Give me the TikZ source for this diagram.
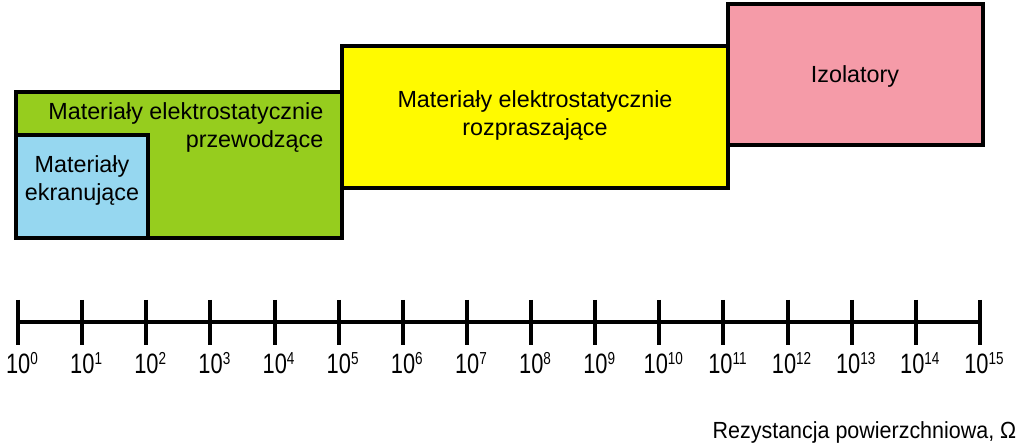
\documentclass[tikz,border=0pt]{standalone}
\usepackage{fontspec}
\setmainfont{Liberation Sans}
\begin{document}
\begin{tikzpicture}[x=0.75pt,y=-0.75pt,
  box/.style={draw=black,line width=3pt},
  lbl/.style={font=\fontsize{17.5}{21}\selectfont,align=center},
  tk/.style={font=\fontsize{21}{22}\selectfont}]
\useasboundingbox (0,0) rectangle (1024,448);
\definecolor{cgreen}{RGB}{150,205,30}
\definecolor{cblue}{RGB}{150,215,240}
\definecolor{cyellow}{RGB}{255,250,0}
\definecolor{cpink}{RGB}{245,155,168}
\draw[box,fill=cgreen] (16,92) rectangle (342,238);
\draw[box,fill=cblue] (16,135) rectangle (148,238);
\draw[box,fill=cyellow] (342,46) rectangle (728,188);
\draw[box,fill=cpink] (728,4) rectangle (983,145);
\node[lbl,align=right,anchor=east] (g) at (328,127) {Materiały elektrostatycznie\\przewodzące};
\node[lbl] (b) at (82,180) {Materiały\\ekranujące};
\node[lbl] (y) at (535,115) {Materiały elektrostatycznie\\rozpraszające};
\node[lbl] (p) at (855,76) {Izolatory};
\coordinate (a0) at (18,322);
\coordinate (a1) at (982,322);
\draw[line width=3pt] (a0) -- (a1);
\foreach \i in {0,...,15}{
  \pgfmathsetmacro\xx{18+\i*64.13}
  \draw[line width=3pt] (\xx,300) -- (\xx,345);
  \node[tk] (t\i) at (\xx+4,363) {\scalebox{0.78}[1]{10\raisebox{0.6ex}{\fontsize{13}{14}\selectfont\i}}};
}
\node[font=\fontsize{17.5}{20}\selectfont,anchor=east] (ax) at (1021,432) {\scalebox{0.92}[1]{Rezystancja powierzchniowa, Ω}};
\end{tikzpicture}
\end{document}
